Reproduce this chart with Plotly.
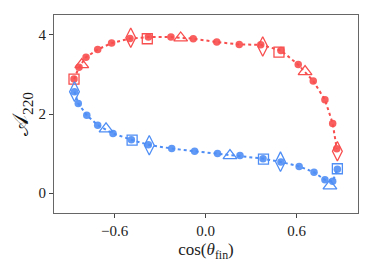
import plotly.graph_objects as go

# Red (upper) branch
red_x = [-0.868, -0.835, -0.789, -0.712, -0.620, -0.499, -0.378, -0.229, -0.082,
         0.073, 0.221, 0.363, 0.496, 0.610, 0.709, 0.786, 0.837, 0.864]
red_y = [2.883, 3.18, 3.435, 3.628, 3.791, 3.906, 3.944, 3.944, 3.901,
         3.817, 3.756, 3.748, 3.603, 3.247, 2.832, 2.361, 1.763, 1.120]
red_sq_x = [-0.868, -0.385, 0.483]
red_sq_y = [2.883, 3.90, 3.562]
red_tri_x = [-0.817, -0.165, 0.655]
red_tri_y = [3.247, 3.92, 3.069]
red_dia_x = [-0.494, 0.376, 0.868]
red_dia_y = [3.926, 3.705, 1.059]

# Blue (lower) branch
blue_x = [-0.865, -0.840, -0.784, -0.712, -0.611, -0.490, -0.378, -0.224, -0.073,
          0.078, 0.226, 0.378, 0.496, 0.616, 0.714, 0.786, 0.837, 0.868]
blue_y = [2.565, 2.267, 1.967, 1.718, 1.509, 1.349, 1.221, 1.127, 1.059,
          1.0, 0.949, 0.873, 0.789, 0.677, 0.529, 0.338, 0.300, 0.606]
blue_sq_x = [-0.485, 0.381, 0.868]
blue_sq_y = [1.338, 0.860, 0.618]
blue_tri_x = [-0.657, 0.160, 0.819]
blue_tri_y = [1.623, 0.949, 0.186]
blue_dia_x = [-0.865, -0.372, 0.493]
blue_dia_y = [2.565, 1.211, 0.796]

RED = "#f84e4e"
BLUE = "#4f8ef5"

x_ticks = [-0.6, 0.0, 0.6]
x_tick_text = ["\u22120.6", "0.0", "0.6"]
y_ticks = [0, 2, 4]

fig = go.Figure()

for xs, ys, col in [(red_x, red_y, RED), (blue_x, blue_y, BLUE)]:
    fig.add_trace(go.Scatter(x=xs, y=ys, mode="lines+markers",
                             line=dict(color=col, width=2, dash="dot"),
                             marker=dict(symbol="circle", size=7.5, color=col, opacity=0.9),
                             showlegend=False))

for col, sets in [(RED, [(red_sq_x, red_sq_y, "square-open", 10),
                         (red_tri_x, red_tri_y, "triangle-up-open", 12),
                         (red_dia_x, red_dia_y, "diamond-tall-open", 14)]),
                  (BLUE, [(blue_sq_x, blue_sq_y, "square-open", 10),
                          (blue_tri_x, blue_tri_y, "triangle-up-open", 12),
                          (blue_dia_x, blue_dia_y, "diamond-tall-open", 14)])]:
    for xs, ys, sym, sz in sets:
        fig.add_trace(go.Scatter(x=xs, y=ys, mode="markers",
                                 marker=dict(symbol=sym, size=sz, color=col,
                                             line=dict(color=col, width=1.3)),
                                 showlegend=False))

axis_common = dict(showgrid=False, zeroline=False, showline=True, linecolor="#666666",
                   linewidth=1.2, mirror=True, ticks="outside", ticklen=4,
                   tickcolor="#444444", automargin=False,
                   tickfont=dict(family="Liberation Serif", size=15, color="#222222"))

fig.update_xaxes(range=[-1.0, 1.004], tickvals=x_ticks, ticktext=x_tick_text,
                 title=dict(text="cos(<i>θ</i><sub>fin</sub>)",
                            font=dict(family="Liberation Serif", size=17, color="#222222"),
                            standoff=5),
                 **axis_common)
fig.update_yaxes(range=[-0.5, 4.5], tickvals=y_ticks,
                 title=dict(text="𝒜<sub>220</sub>",
                            font=dict(family="Liberation Serif", size=22, color="#111111"),
                            standoff=12),
                 **axis_common)

fig.update_layout(width=366, height=265, margin=dict(l=46, r=16, t=7, b=60, autoexpand=False),
                  plot_bgcolor="white", paper_bgcolor="white")

fig.write_html("out.html")
